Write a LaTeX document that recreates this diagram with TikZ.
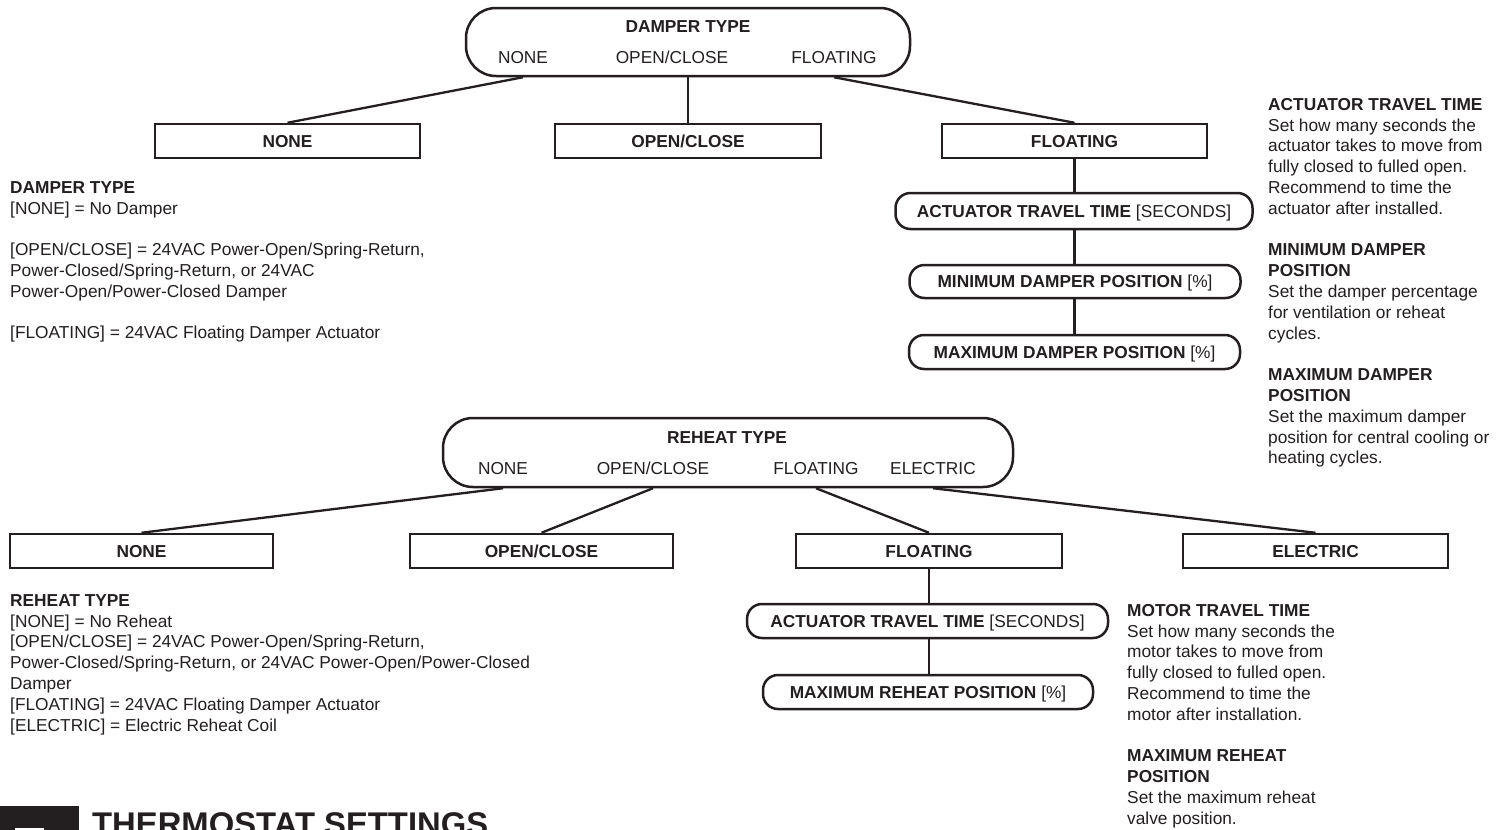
\documentclass[tikz,border=0pt]{standalone}
\usepackage{fontspec}
\setmainfont{Liberation Sans}
\definecolor{ink}{RGB}{35,31,32}
\newcommand{\bodyfont}{\fontsize{17.3}{20.8}\selectfont}
\begin{document}
\begin{tikzpicture}[x=1pt,y=-1pt,
  every node/.style={text=ink},
  lbl/.style={font=\bodyfont, inner sep=0, text height=12.4pt, text depth=0pt},
  lblb/.style={lbl, font=\bodyfont\bfseries},
  typebox/.style={draw=ink, line width=2.5pt, rounded corners=30pt, inner sep=0},
  rectbox/.style={draw=ink, line width=2.5pt, inner sep=0, minimum height=34pt,
    font=\bodyfont\bfseries, text height=12.4pt, text depth=0pt},
  pillbox/.style={draw=ink, line width=2.5pt, rounded corners=15pt, inner sep=0,
    minimum height=34pt, font=\bodyfont, text height=12.4pt, text depth=0pt},
  link/.style={draw=ink, line width=2.3pt},
  para/.style={font=\bodyfont, inner sep=0, anchor=north west, align=left}
]
\useasboundingbox (0,0) rectangle (1505,830);
\fill[white] (0,0) rectangle (1505,830);

% ---------- DAMPER TYPE ----------
\node[typebox, minimum width=444pt, minimum height=68pt] (dtype) at (688,42) {};
\node[lblb] (dtitle) at (688,26) {DAMPER TYPE};
\node[lbl] (dnone) at (523,57) {NONE};
\node[lbl] (dopen) at (672,57) {OPEN/CLOSE};
\node[lbl] (dfloat) at (834,57) {FLOATING};

\node[rectbox, minimum width=265pt] (bnone) at (287.5,141) {NONE};
\node[rectbox, minimum width=266pt] (bopen) at (688,141) {OPEN/CLOSE};
\node[rectbox, minimum width=265pt] (bfloat) at (1074.5,141) {FLOATING};

\draw[link] (dnone |- dtype.south) -- (bnone.north);
\draw[link] (dtype.south) -- (bopen.north);
\draw[link] (dfloat |- dtype.south) -- (bfloat.north);

\node[pillbox, minimum width=357pt, minimum height=36pt] (att1) at (1074,211) {\textbf{ACTUATOR TRAVEL TIME} [SECONDS]};
\node[pillbox, minimum width=331pt, minimum height=33pt] (min1) at (1075,281.5) {\textbf{MINIMUM DAMPER POSITION} [\%]};
\node[pillbox, minimum width=331pt] (max1) at (1074.5,352) {\textbf{MAXIMUM DAMPER POSITION} [\%]};

\draw[link] (bfloat.south) -- (bfloat.south |- att1.north);
\draw[link] (bfloat.south |- att1.south) -- (bfloat.south |- min1.north);
\draw[link] (bfloat.south |- min1.south) -- (bfloat.south |- max1.north);

\node[para] (dnotes) at (10,178.6) {\strut\textbf{DAMPER TYPE}\\
{[}NONE] = No Damper\\[20.8pt]
{[}OPEN/CLOSE] = 24VAC Power-Open/Spring-Return,\\
Power-Closed/Spring-Return, or 24VAC\\
Power-Open/Power-Closed Damper\\[20.8pt]
{[}FLOATING] = 24VAC Floating Damper Actuator};

\node[para] (dhelp) at (1268,95.6) {\strut\textbf{ACTUATOR TRAVEL TIME}\\
Set how many seconds the\\
actuator takes to move from\\
fully closed to fulled open.\\
Recommend to time the\\
actuator after installed.\\[20.8pt]
\textbf{MINIMUM DAMPER}\\
\textbf{POSITION}\\
Set the damper percentage\\
for ventilation or reheat\\
cycles.\\[20.8pt]
\textbf{MAXIMUM DAMPER}\\
\textbf{POSITION}\\
Set the maximum damper\\
position for central cooling or\\
heating cycles.};

% ---------- REHEAT TYPE ----------
\node[typebox, minimum width=570pt, minimum height=69pt] (rtype) at (728,452.5) {};
\node[lblb] (rtitle) at (727,437) {REHEAT TYPE};
\node[lbl] (rnone) at (503,468) {NONE};
\node[lbl] (ropen) at (653,468) {OPEN/CLOSE};
\node[lbl] (rfloat) at (816,468) {FLOATING};
\node[lbl] (relec) at (933,468) {ELECTRIC};

\node[rectbox, minimum width=263pt] (cnone) at (141.5,551) {NONE};
\node[rectbox, minimum width=263pt] (copen) at (541.5,551) {OPEN/CLOSE};
\node[rectbox, minimum width=266pt] (cfloat) at (929,551) {FLOATING};
\node[rectbox, minimum width=265pt] (celec) at (1315.5,551) {ELECTRIC};

\draw[link] (rnone |- rtype.south) -- (cnone.north);
\draw[link] (ropen |- rtype.south) -- (copen.north);
\draw[link] (rfloat |- rtype.south) -- (cfloat.north);
\draw[link] (relec |- rtype.south) -- (celec.north);

\node[pillbox, minimum width=361pt] (att2) at (927.5,621) {\textbf{ACTUATOR TRAVEL TIME} [SECONDS]};
\node[pillbox, minimum width=330pt] (max2) at (928,692) {\textbf{MAXIMUM REHEAT POSITION} [\%]};

\draw[link] (cfloat.south) -- (cfloat.south |- att2.north);
\draw[link] (cfloat.south |- att2.south) -- (cfloat.south |- max2.north);

\node[para] (rnotes) at (10,591.6) {\strut\textbf{REHEAT TYPE}\\
{[}NONE] = No Reheat\\
{[}OPEN/CLOSE] = 24VAC Power-Open/Spring-Return,\\
Power-Closed/Spring-Return, or 24VAC Power-Open/Power-Closed\\
Damper\\
{[}FLOATING] = 24VAC Floating Damper Actuator\\
{[}ELECTRIC] = Electric Reheat Coil};

\node[para] (rhelp) at (1127,601.6) {\strut\textbf{MOTOR TRAVEL TIME}\\
Set how many seconds the\\
motor takes to move from\\
fully closed to fulled open.\\
Recommend to time the\\
motor after installation.\\[20.8pt]
\textbf{MAXIMUM REHEAT}\\
\textbf{POSITION}\\
Set the maximum reheat\\
valve position.};

% ---------- footer ----------
\fill[ink] (0,806) rectangle (79,845);
\fill[white] (15,828) rectangle (44,845);
\node[anchor=base west, inner sep=0, font=\fontsize{32.8}{36}\selectfont\bfseries] (title) at (92,835.5) {THERMOSTAT SETTINGS};
\end{tikzpicture}
\end{document}
